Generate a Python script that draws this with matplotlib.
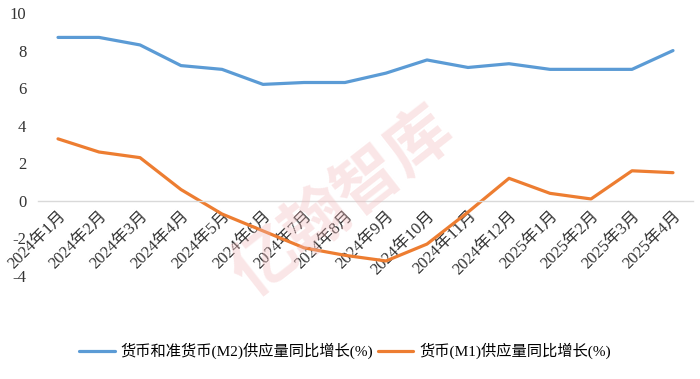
import matplotlib
matplotlib.use("Agg")
import matplotlib.pyplot as plt

plt.rcParams['font.family'] = ['Liberation Serif', 'Noto Sans CJK SC', 'DejaVu Sans']
plt.rcParams['axes.unicode_minus'] = False

months = ["2024年1月", "2024年2月", "2024年3月", "2024年4月", "2024年5月", "2024年6月",
          "2024年7月", "2024年8月", "2024年9月", "2024年10月", "2024年11月", "2024年12月",
          "2025年1月", "2025年2月", "2025年3月", "2025年4月"]
m2 = [8.7, 8.7, 8.3, 7.2, 7.0, 6.2, 6.3, 6.3, 6.8, 7.5, 7.1, 7.3, 7.0, 7.0, 7.0, 8.0]
m1 = [3.3, 2.6, 2.3, 0.6, -0.7, -1.6, -2.5, -2.9, -3.2, -2.3, -0.6, 1.2, 0.4, 0.1, 1.6, 1.5]
labels = ["货币和准货币(M2)供应量同比增长(%)", "货币(M1)供应量同比增长(%)"]

fig = plt.figure(figsize=(7, 3.79), dpi=100)
ax = fig.add_axes([0.0536, 0.2718, 0.9371, 0.6939])

# faint watermark
fig.text(0.49, 0.47, "亿翰智库", fontsize=47, fontweight='bold', color='#f2b8ba',
         alpha=0.35, rotation=38, ha='center', va='center',
         family=['Noto Sans CJK SC'], zorder=0)

# axis at y = 0 (set before tick labels, it resets the ticks)
for s in ['top', 'right', 'left']:
    ax.spines[s].set_visible(False)
ax.spines['bottom'].set_position(('data', 0))
ax.spines['bottom'].set_color('#d9d9d9')
ax.spines['bottom'].set_linewidth(1)

x = range(len(months))
ax.plot(x, m2, color='#5B9BD5', lw=2.3, label=labels[0], solid_capstyle='round')
ax.plot(x, m1, color='#ED7D31', lw=2.3, label=labels[1], solid_capstyle='round')

ax.set_xlim(-0.5, len(months) - 0.5)
ax.set_ylim(-4, 10)
ax.set_yticks(range(-4, 11, 2))
ax.set_yticklabels([str(v) for v in range(-4, 11, 2)], fontsize=12, color='#333333')
ax.set_xticks(list(x))
ax.set_xticklabels(months, rotation=45, ha='right', rotation_mode='anchor',
                   fontsize=12, color='#333333')

ax.tick_params(axis='both', length=0)
ax.tick_params(axis='y', pad=8)
ax.tick_params(axis='x', pad=5)
ax.patch.set_alpha(0)

fig.legend(loc='center', bbox_to_anchor=(0.493, 0.074), ncol=2, frameon=False,
           fontsize=11, handlelength=2.3, columnspacing=0.3, handletextpad=0.4)

fig.savefig("out.png", dpi=100)
